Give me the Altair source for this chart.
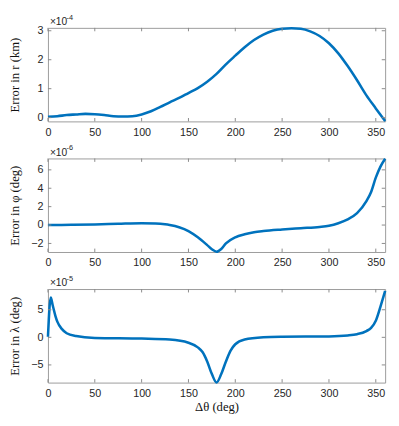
import altair as alt
import pandas as pd

# Delta theta (deg) sample points and errors
deg_r = [0, 10, 20, 30, 40, 50, 60, 70, 80, 90, 100, 110, 120, 130, 140, 150, 160, 170, 180,
         190, 200, 210, 220, 230, 240, 250, 260, 270, 280, 290, 300, 310, 320, 330, 340, 350, 360]
err_r = [0.03, 0.05, 0.09, 0.11, 0.13, 0.12, 0.09, 0.05, 0.04, 0.05, 0.11, 0.22, 0.37, 0.53,
         0.68, 0.85, 1.02, 1.24, 1.51, 1.84, 2.14, 2.43, 2.68, 2.87, 3.00, 3.07, 3.09, 3.07,
         2.98, 2.82, 2.57, 2.22, 1.78, 1.29, 0.77, 0.32, -0.12]  # x 1e-4 km

deg_phi = [0, 25, 50, 75, 100, 115, 125, 130, 140, 150, 160, 170, 175, 180, 185, 190, 200, 210,
           220, 230, 250, 270, 290, 300, 310, 320, 330, 340, 345, 350, 355, 360]
err_phi = [0.0, 0.03, 0.07, 0.14, 0.2, 0.17, 0.08, 0.0, -0.24, -0.65, -1.33, -2.18, -2.63, -2.9,
           -2.6, -2.0, -1.33, -1.0, -0.78, -0.65, -0.48, -0.34, -0.2, -0.07, 0.2, 0.61, 1.3,
           2.6, 3.6, 5.15, 6.35, 7.2]  # x 1e-6 deg

deg_lam = [0, 3, 5, 8, 10, 15, 20, 30, 50, 100, 130, 150, 160, 165, 170, 175, 180, 185, 190,
           195, 200, 210, 230, 250, 300, 320, 330, 340, 345, 350, 355, 360]
err_lam = [0.1, 7.2, 5.85, 3.86, 2.84, 1.48, 0.74, 0.23, -0.11, -0.23, -0.4, -0.97, -1.82,
           -2.67, -4.37, -6.65, -8.2, -6.65, -4.37, -2.4, -1.25, -0.4, 0.0, 0.1, 0.17, 0.34,
           0.57, 1.14, 1.7, 3.0, 5.57, 8.4]  # x 1e-5 deg

x_ticks = [0, 50, 100, 150, 200, 250, 300, 350]
panels = [
    dict(deg=deg_r, err=err_r, title="Error in r (km)", dom=[-0.13, 3.1], ticks=[0, 1, 2, 3], exp="-4"),
    dict(deg=deg_phi, err=err_phi, title="Error in φ (deg)", dom=[-2.93, 7.24], ticks=[-2, 0, 2, 4, 6], exp="-6"),
    dict(deg=deg_lam, err=err_lam, title="Error in λ (deg)", dom=[-8.2, 8.75], ticks=[-5, 0, 5], exp="-5"),
]

W, H = 346, 96
BLUE = "#0072BD"
TICK = "#8a8a8a"
TL = 3.5

charts = []
for i, p in enumerate(panels):
    df = pd.DataFrame({"deg": p["deg"], "err": p["err"]})
    last = i == len(panels) - 1
    xscale = alt.Scale(domain=[0, 360], nice=False, zero=False)
    yscale = alt.Scale(domain=p["dom"], nice=False, zero=False)
    xaxis = alt.Axis(values=x_ticks, tickSize=0, labelPadding=5, domain=False, grid=False,
                     labelOverlap=False, labelFlush=False,
                     title="Δθ (deg)" if last else None, titlePadding=3)
    yaxis = alt.Axis(values=p["ticks"], tickSize=0, labelPadding=5, domain=False, grid=False,
                     labelOverlap=False, labelFlush=False, labelBound=False,
                     title=p["title"], titleX=-27)
    line = alt.Chart(df).mark_line(color=BLUE, strokeWidth=2.6, interpolate="monotone", clip=False).encode(
        x=alt.X("deg:Q", scale=xscale, axis=xaxis),
        y=alt.Y("err:Q", scale=yscale, axis=yaxis),
    )
    xt = pd.DataFrame({"deg": x_ticks})
    yt = pd.DataFrame({"err": p["ticks"]})
    X = alt.X("deg:Q", scale=xscale, axis=xaxis)
    Y = alt.Y("err:Q", scale=yscale, axis=yaxis)
    xb = alt.Chart(xt).mark_rule(color=TICK, strokeWidth=1).encode(
        x=X, y=alt.value(H), y2=alt.value(H - TL))
    xtp = alt.Chart(xt).mark_rule(color=TICK, strokeWidth=1).encode(
        x=X, y=alt.value(0), y2=alt.value(TL))
    yl = alt.Chart(yt).mark_rule(color=TICK, strokeWidth=1).encode(
        y=Y, x=alt.value(0), x2=alt.value(TL))
    yr = alt.Chart(yt).mark_rule(color=TICK, strokeWidth=1).encode(
        y=Y, x=alt.value(W), x2=alt.value(W - TL))
    e1 = alt.Chart(pd.DataFrame({"s": ["×10"]})).mark_text(
        align="left", baseline="alphabetic", fontSize=10.5, font="Liberation Sans", color="#262626"
    ).encode(text="s:N", x=alt.value(2), y=alt.value(-3))
    e2 = alt.Chart(pd.DataFrame({"s": [p["exp"]]})).mark_text(
        align="left", baseline="alphabetic", fontSize=7.5, font="Liberation Sans", color="#262626"
    ).encode(text="s:N", x=alt.value(19), y=alt.value(-8.5))
    charts.append(alt.layer(line, xb, xtp, yl, yr, e1, e2).properties(width=W, height=H))

chart = alt.vconcat(*charts, spacing=38, bounds="flush").properties(padding=0).configure_view(
    stroke="#9a9a9a", strokeWidth=1
).configure_axis(
    labelFont="Liberation Sans", labelFontSize=11, labelColor="#262626",
    titleFont="Liberation Serif", titleFontSize=13, titleFontWeight="normal", titleColor="#111111",
)

chart.save("out.html", embed_options={"renderer": "svg", "actions": False})
